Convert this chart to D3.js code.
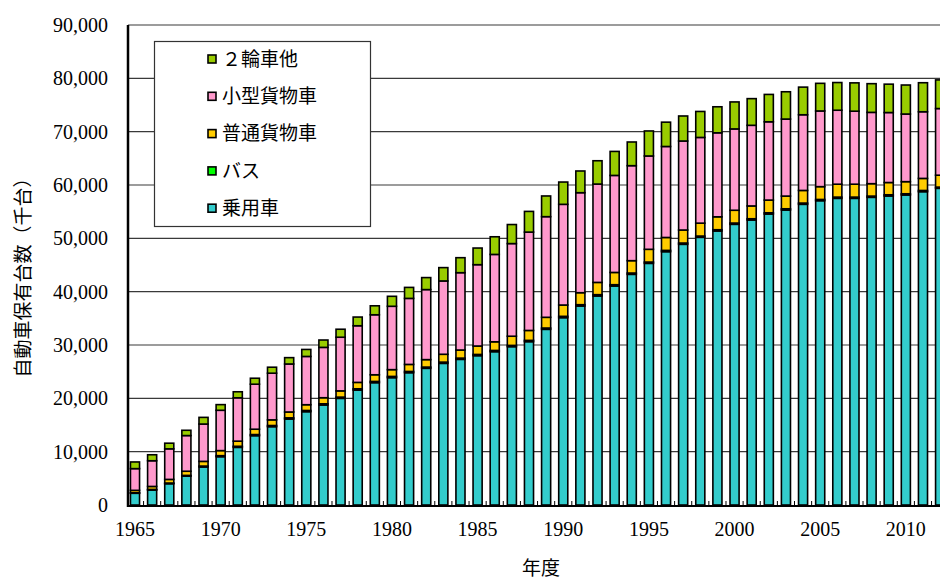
<!DOCTYPE html>
<html>
<head>
<meta charset="utf-8">
<script src="https://cdn.jsdelivr.net/npm/d3@7/dist/d3.min.js"></script>
<style>
  body { margin: 0; background: #fff; }
  svg { display: block; }
</style>
</head>
<body>
<div id="chart"></div>
<script>
// fiscal years
let years = [1965, 1966, 1967, 1968, 1969, 1970, 1971, 1972, 1973, 1974,
             1975, 1976, 1977, 1978, 1979, 1980, 1981, 1982, 1983, 1984,
             1985, 1986, 1987, 1988, 1989, 1990, 1991, 1992, 1993, 1994,
             1995, 1996, 1997, 1998, 1999, 2000, 2001, 2002, 2003, 2004,
             2005, 2006, 2007, 2008, 2009, 2010, 2011, 2012];

// values in thousand vehicles
let cars = [2200, 2810, 3990, 5400, 7130, 9060, 10810, 13000, 14690, 16120,
            17500, 18750, 20000, 21560, 22940, 23880, 24810, 25630, 26560, 27310,
            28000, 28750, 29690, 30630, 32940, 35130, 37310, 39190, 41060, 43250,
            45310, 47500, 48880, 50190, 51380, 52630, 53440, 54560, 55310, 56380,
            57060, 57500, 57500, 57690, 57940, 58130, 58750, 59380];
let buses = [100, 110, 130, 150, 170, 190, 200, 210, 215, 220,
             225, 225, 228, 230, 230, 230, 230, 230, 230, 230,
             231, 233, 236, 240, 243, 246, 248, 248, 246, 244,
             243, 242, 240, 238, 236, 235, 234, 233, 233, 232,
             232, 231, 230, 229, 228, 227, 226, 226];
let trucks = [450, 560, 680, 780, 880, 950, 960, 1000, 1060, 1100,
              1080, 1140, 1170, 1200, 1250, 1270, 1320, 1400, 1470, 1520,
              1580, 1620, 1720, 1860, 2010, 2120, 2250, 2300, 2300, 2320,
              2390, 2420, 2440, 2420, 2420, 2400, 2400, 2380, 2380, 2370,
              2400, 2420, 2420, 2330, 2300, 2270, 2260, 2230];
let smallTrucks = [4070, 4820, 5730, 6690, 7000, 7560, 8130, 8440, 8750, 9000,
                   9050, 9440, 10060, 10620, 11250, 11880, 12380, 13130, 13750, 14500,
                   15250, 16380, 17370, 18440, 18870, 18880, 18750, 18440, 18190, 17810,
                   17500, 17060, 16690, 16070, 15750, 15250, 15120, 14680, 14440, 14190,
                   14190, 13870, 13690, 13370, 13120, 12680, 12500, 12500];
let others = [1250, 1120, 1060, 990, 1250, 1060, 1130, 1120, 1120, 1190,
              1310, 1380, 1500, 1630, 1680, 1870, 2060, 2250, 2500, 2810,
              3120, 3310, 3570, 3880, 3880, 4180, 4070, 4370, 4500, 4440,
              4690, 4560, 4690, 4870, 4880, 5060, 5000, 5130, 5120, 5180,
              5180, 5190, 5310, 5380, 5320, 5440, 5440, 5370];

let seriesKeys = ["cars", "buses", "trucks", "smallTrucks", "others"];
let seriesNames = ["乗用車", "バス", "普通貨物車", "小型貨物車", "２輪車他"];
let seriesColors = ["#33CCCC", "#00FF00", "#FFCC00", "#FF99CC", "#99CC00"];
let yTicks = [0, 10000, 20000, 30000, 40000, 50000, 60000, 70000, 80000, 90000];
let xLabels = [1965, 1970, 1975, 1980, 1985, 1990, 1995, 2000, 2005, 2010];

let rows = years.map((yr, i) => ({
    year: yr,
    cars: cars[i],
    buses: buses[i],
    trucks: trucks[i],
    smallTrucks: smallTrucks[i],
    others: others[i]
}));

let width = 940;
let height = 579;
let plotLeft = 128, plotTop = 25, plotBottom = 505;
let step = 17.13;
let firstCenter = 135;

let svg = d3.select("#chart")
    .append("svg")
    .attr("width", width)
    .attr("height", height);

let x = d3.scaleBand()
    .domain(years)
    .range([firstCenter - step / 2, firstCenter - step / 2 + step * years.length])
    .paddingInner(0.47)
    .paddingOuter(0.235);

let y = d3.scaleLinear()
    .domain([0, 90000])
    .range([plotBottom, plotTop]);

// gridlines
svg.append("g")
    .selectAll("line")
    .data(yTicks.slice(1))
    .enter()
    .append("line")
    .attr("x1", plotLeft)
    .attr("x2", width)
    .attr("y1", d => y(d))
    .attr("y2", d => y(d))
    .attr("stroke", "#3a3a3a")
    .attr("stroke-width", 1.2);

// stacked bars
let stacked = d3.stack().keys(seriesKeys)(rows);

svg.append("g")
    .selectAll("g")
    .data(stacked)
    .enter()
    .append("g")
    .attr("fill", (d, i) => seriesColors[i])
    .selectAll("rect")
    .data(d => d)
    .enter()
    .append("rect")
    .attr("x", d => x(d.data.year))
    .attr("width", x.bandwidth())
    .attr("y", d => y(d[1]))
    .attr("height", d => y(d[0]) - y(d[1]))
    .attr("stroke", "#000")
    .attr("stroke-width", 1.6);

// x axis line and small inner ticks between categories
svg.append("line")
    .attr("x1", plotLeft).attr("x2", width)
    .attr("y1", plotBottom + 1).attr("y2", plotBottom + 1)
    .attr("stroke", "#000")
    .attr("stroke-width", 2.2);

svg.append("g")
    .selectAll("line")
    .data(years)
    .enter()
    .append("line")
    .attr("x1", d => x(d) + x.bandwidth() / 2 + x.step() / 2)
    .attr("x2", d => x(d) + x.bandwidth() / 2 + x.step() / 2)
    .attr("y1", plotBottom)
    .attr("y2", plotBottom - 4)
    .attr("stroke", "#000")
    .attr("stroke-width", 1);

// y axis
svg.append("line")
    .attr("x1", plotLeft).attr("x2", plotLeft)
    .attr("y1", plotTop).attr("y2", plotBottom + 2)
    .attr("stroke", "#000")
    .attr("stroke-width", 2.5);

let yAxis = d3.axisLeft(y)
    .tickValues(yTicks)
    .tickSize(0)
    .tickPadding(20)
    .tickFormat(d3.format(","));

svg.append("g")
    .attr("transform", `translate(${plotLeft},0)`)
    .call(yAxis)
    .call(g => g.select(".domain").remove())
    .selectAll("text")
    .attr("font-family", "'Liberation Serif', 'Times New Roman', serif")
    .attr("font-size", 20)
    .attr("fill", "#000");

let xAxis = d3.axisBottom(x)
    .tickValues(xLabels)
    .tickSize(0)
    .tickPadding(17);

svg.append("g")
    .attr("transform", `translate(0,${plotBottom})`)
    .call(xAxis)
    .call(g => g.select(".domain").remove())
    .selectAll("text")
    .attr("font-family", "'Liberation Serif', 'Times New Roman', serif")
    .attr("font-size", 20)
    .attr("fill", "#000");

// axis titles
svg.append("text")
    .attr("x", 541)
    .attr("y", 575)
    .attr("text-anchor", "middle")
    .attr("font-family", "'Noto Sans CJK JP', sans-serif")
    .attr("font-size", 19)
    .attr("fill", "#000")
    .text("年度");

svg.append("text")
    .attr("transform", "translate(30,273) rotate(-90)")
    .attr("text-anchor", "middle")
    .attr("font-family", "'Noto Sans CJK JP', sans-serif")
    .attr("font-size", 19)
    .attr("fill", "#000")
    .text("自動車保有台数（千台）");

// legend
let legend = svg.append("g");

legend.append("rect")
    .attr("x", 154.5)
    .attr("y", 41.5)
    .attr("width", 216)
    .attr("height", 185)
    .attr("fill", "#fff")
    .attr("stroke", "#333")
    .attr("stroke-width", 1.2);

let legendOrder = [4, 3, 2, 1, 0];

let items = legend.selectAll("g.item")
    .data(legendOrder)
    .enter()
    .append("g")
    .attr("class", "item")
    .attr("transform", (d, i) => `translate(0,${59 + i * 37.3})`);

items.append("rect")
    .attr("x", 208)
    .attr("y", -4)
    .attr("width", 8)
    .attr("height", 8)
    .attr("fill", d => seriesColors[d])
    .attr("stroke", "#000")
    .attr("stroke-width", 1.6);

items.append("text")
    .attr("x", 222)
    .attr("y", 0)
    .attr("dy", "0.35em")
    .attr("font-family", "'Noto Sans CJK JP', sans-serif")
    .attr("font-size", 19)
    .attr("fill", "#000")
    .text(d => seriesNames[d]);
</script>
</body>
</html>
